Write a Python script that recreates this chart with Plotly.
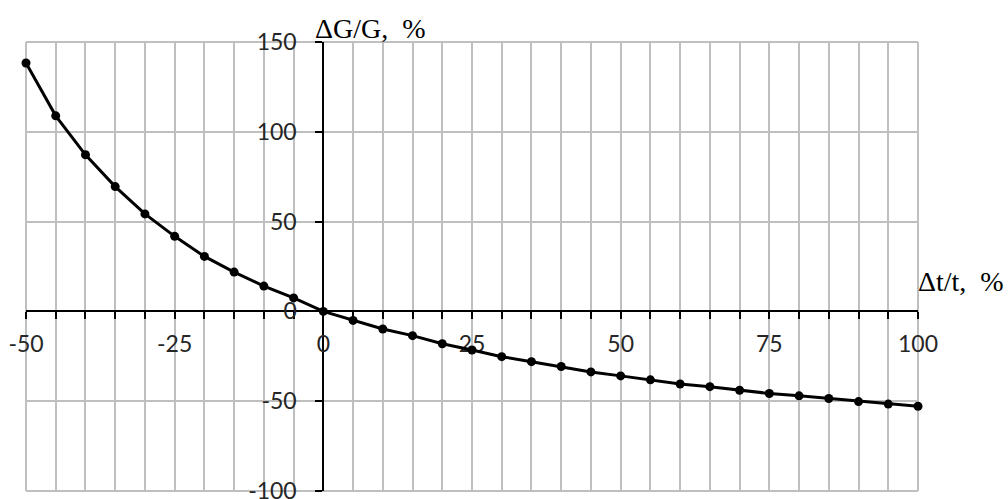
import plotly.graph_objects as go

dt = [-50, -45, -40, -35, -30, -25, -20, -15, -10, -5, 0, 5, 10, 15, 20, 25, 30,
      35, 40, 45, 50, 55, 60, 65, 70, 75, 80, 85, 90, 95, 100]
dG = [138.3, 108.9, 87.2, 69.5, 54.3, 41.8, 30.6, 21.9, 14.1, 7.5, 0.0, -5.0, -9.8,
      -13.5, -18.0, -21.5, -25.2, -28.0, -30.7, -33.7, -35.9, -38.1, -40.4, -41.9,
      -43.9, -45.7, -47.0, -48.5, -50.2, -51.6, -52.8]
x_ticks = [-50, -25, 0, 25, 50, 75, 100]
y_ticks = [-100, -50, 0, 50, 100, 150]

GRID = "#bfbfbf"

fig = go.Figure()
fig.add_trace(go.Scatter(
    x=dt, y=dG, mode="lines+markers",
    line=dict(color="black", width=3),
    marker=dict(color="black", size=9),
    showlegend=False, cliponaxis=False,
))

tickfont = dict(family="Lato, Open Sans, sans-serif", size=23, color="#262626")
serif = dict(family="Liberation Serif, Times New Roman, serif", size=28, color="black")

fig.update_layout(
    width=1008, height=499,
    margin=dict(l=26, r=90, t=42, b=8),
    paper_bgcolor="white", plot_bgcolor="white",
    xaxis=dict(
        range=[-50, 100], tickvals=x_ticks, ticktext=[str(v) for v in x_ticks],
        anchor="free", position=0.4, automargin=False,
        showline=True, linecolor="black", linewidth=2,
        ticks="outside", ticklen=7, tickwidth=2, tickcolor="black",
        showgrid=True, gridcolor=GRID, gridwidth=2,
        minor=dict(dtick=5, tick0=0, showgrid=True, gridcolor=GRID, gridwidth=2,
                   ticks="outside", ticklen=7, tickwidth=2, tickcolor="black"),
        zeroline=False, tickfont=tickfont, ticklabelstandoff=5,
        ticklabeloverflow="allow", layer="below traces",
    ),
    yaxis=dict(
        range=[-100, 150], tickvals=y_ticks, ticktext=[str(v) for v in y_ticks],
        anchor="free", position=1/3, automargin=False,
        showline=True, linecolor="black", linewidth=2,
        ticks="outside", ticklen=7, tickwidth=2, tickcolor="black",
        showgrid=True, gridcolor=GRID, gridwidth=2,
        zeroline=False, tickfont=tickfont, ticklabelstandoff=14,
        ticklabeloverflow="allow", layer="below traces",
    ),
    shapes=[
        dict(type="line", xref="paper", yref="paper", x0=0, x1=1, y0=1, y1=1,
             line=dict(color=GRID, width=2), layer="below"),
        dict(type="line", xref="paper", yref="paper", x0=0, x1=1, y0=0, y1=0,
             line=dict(color=GRID, width=2), layer="below"),
        dict(type="line", xref="paper", yref="paper", x0=0, x1=0, y0=0, y1=1,
             line=dict(color=GRID, width=2), layer="below"),
        dict(type="line", xref="paper", yref="paper", x0=1, x1=1, y0=0, y1=1,
             line=dict(color=GRID, width=2), layer="below"),
    ],
    annotations=[
        dict(text="ΔG/G,  %", xref="x", yref="paper", x=-1.8, y=1.0,
             xanchor="left", yanchor="bottom", showarrow=False, yshift=-4,
             font=serif),
        dict(text="Δt/t,  %", xref="x", yref="y", x=100, y=0,
             xanchor="left", yanchor="bottom", showarrow=False, xshift=-2, yshift=12,
             font=serif),
    ],
)

fig.write_html("out.html")
